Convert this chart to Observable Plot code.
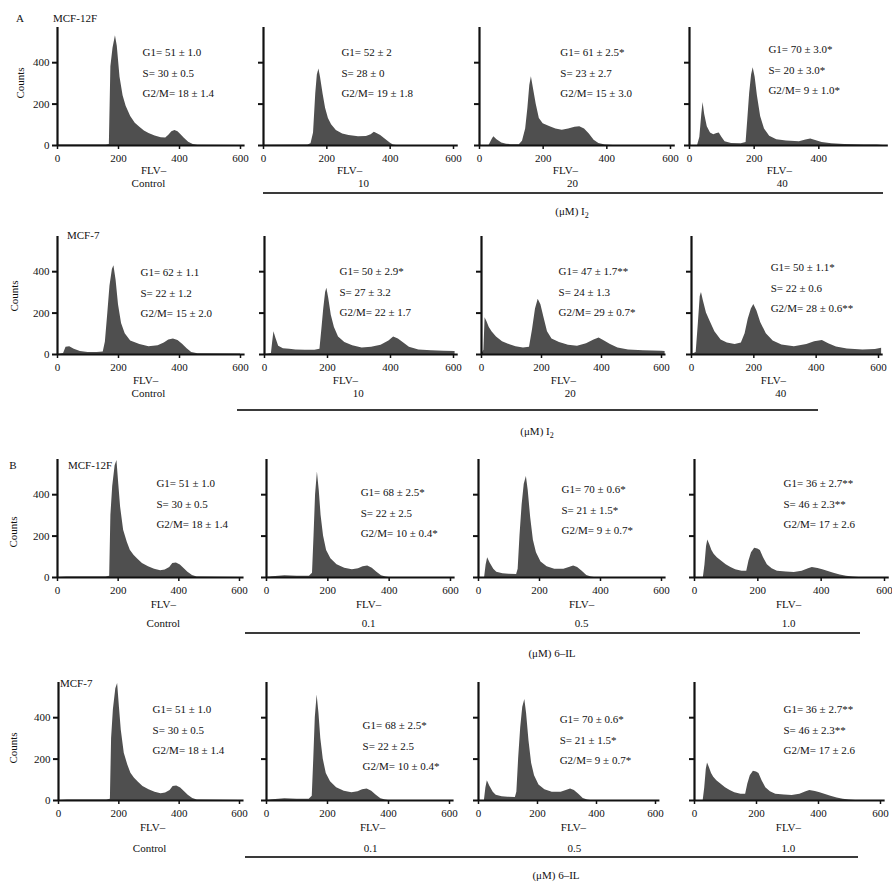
<!DOCTYPE html>
<html><head><meta charset="utf-8">
<script src="https://cdn.jsdelivr.net/npm/d3@7"></script>
<script src="https://cdn.jsdelivr.net/npm/@observablehq/plot@0.6"></script>
<style>
body{margin:0;background:#fff;}
#fig{position:relative;width:892px;height:882px;overflow:hidden;font-family:"Liberation Serif","Times New Roman",serif;color:#111;}
.pan{position:absolute;}
.lbl{position:absolute;font-size:11px;white-space:nowrap;line-height:1;transform:translate(-50%,-50%);}
.lbl.l{transform:translate(0,-50%);}
.lbl.rot{transform:translate(-50%,-50%) rotate(-90deg);}
.hline{position:absolute;height:2px;background:#3a3a3a;}
</style></head><body><div id="fig"></div>
<script>
// ---------- DATA (FLV channel, counts) ----------
const hA12_ctrl = [[0,2],[160,3],[170,5],[175,380],[182,470],[190,530],[196,480],[205,330],[215,240],[225,190],[240,140],[255,108],[270,88],[285,70],[300,58],[320,46],[340,38],[355,36],[365,50],[375,66],[385,72],[395,66],[405,52],[415,36],[430,16],[445,5],[460,1],[600,0]];
const hA12_10 = [[0,1],[140,2],[150,8],[158,60],[165,250],[170,340],[175,369],[180,330],[188,250],[196,180],[205,130],[215,100],[230,72],[250,56],[270,48],[300,42],[325,44],[340,52],[350,64],[358,58],[370,48],[385,30],[400,12],[410,3],[420,0],[600,0]];
const hA12_20 = [[0,0],[30,0],[40,30],[45,42],[55,28],[70,12],[85,6],[100,4],[125,4],[135,20],[145,80],[152,180],[158,290],[163,332],[170,270],[178,200],[188,130],[200,105],[220,92],[240,80],[260,74],[280,80],[300,88],[315,90],[330,80],[345,55],[360,25],[375,10],[395,3],[420,0],[600,0]];
const hA12_40 = [[0,0],[25,0],[32,40],[38,150],[42,208],[47,150],[55,90],[65,60],[75,52],[85,58],[92,60],[100,40],[110,18],[130,10],[160,8],[175,14],[180,120],[186,250],[192,340],[197,376],[203,330],[210,240],[220,140],[232,80],[248,45],[270,28],[300,22],[340,18],[360,26],[375,32],[390,24],[410,14],[440,8],[480,5],[540,3],[580,2],[600,0]];
const hA7_ctrl = [[0,0],[20,5],[28,35],[40,38],[55,25],[75,14],[100,10],[130,10],[150,12],[157,60],[165,200],[172,330],[180,410],[185,429],[192,360],[200,240],[210,150],[222,100],[240,65],[270,48],[300,38],[330,42],[350,55],[365,70],[380,75],[395,68],[410,50],[425,28],[440,10],[460,4],[600,3]];
const hA7_10 = [[0,0],[22,5],[26,60],[30,110],[36,80],[45,40],[60,28],[80,25],[100,22],[130,20],[160,20],[176,25],[182,120],[188,220],[194,300],[198,320],[204,270],[212,190],[222,130],[235,85],[255,58],[280,42],[310,32],[340,35],[370,45],[395,65],[410,85],[425,75],[440,58],[460,35],[490,22],[530,18],[570,16],[605,14]];
const hA7_20 = [[0,0],[8,20],[12,178],[18,160],[26,130],[35,110],[50,85],[70,62],[90,50],[115,38],[140,32],[160,35],[170,120],[180,220],[189,267],[198,240],[208,180],[220,110],[235,75],[260,58],[290,45],[320,40],[350,52],[375,70],[392,80],[410,65],[430,48],[455,32],[490,22],[540,18],[600,16],[612,15]];
const hA7_40 = [[0,0],[15,10],[22,150],[28,280],[32,300],[38,260],[48,200],[60,160],[75,110],[95,70],[115,55],[140,48],[160,55],[172,100],[182,170],[192,220],[200,241],[210,210],[222,155],[240,100],[262,65],[290,46],[330,38],[370,48],[395,62],[420,68],[440,52],[465,36],[500,26],[550,22],[590,24],[610,30]];
const hB12_ctrl = [[0,0],[30,3],[160,3],[172,6],[176,300],[182,440],[190,540],[196,565],[202,450],[208,340],[218,228],[230,170],[240,132],[252,108],[265,88],[280,68],[300,52],[320,40],[340,33],[355,36],[370,48],[380,68],[392,70],[405,60],[418,42],[430,25],[445,10],[460,2],[600,0]];
const hB12_01 = [[0,0],[20,4],[60,8],[100,6],[140,6],[150,20],[155,200],[160,400],[166,510],[172,420],[178,300],[186,200],[196,130],[210,90],[230,62],[255,45],[280,38],[300,42],[315,52],[330,55],[345,45],[360,25],[375,8],[390,2],[400,0],[600,0]];
const hB12_05 = [[0,0],[20,0],[25,60],[30,96],[38,70],[50,40],[60,25],[80,18],[100,16],[125,14],[130,40],[136,200],[143,350],[150,450],[157,488],[163,420],[171,290],[180,180],[190,120],[205,75],[225,52],[250,40],[280,40],[300,50],[312,56],[325,48],[340,30],[355,10],[370,2],[380,0],[600,0]];
const hB12_10 = [[0,0],[28,0],[33,60],[38,150],[42,181],[48,160],[55,130],[62,112],[72,95],[85,80],[100,62],[115,48],[130,38],[150,30],[165,30],[172,80],[180,120],[190,141],[200,138],[208,130],[218,95],[230,62],[245,42],[262,30],[290,26],[315,24],[340,30],[360,42],[372,48],[390,44],[405,38],[420,30],[440,20],[460,12],[480,6],[500,2],[520,0],[600,0]];
const hB7_ctrl = hB12_ctrl;
const hB7_01 = hB12_01;
const hB7_05 = hB12_05;
const hB7_10 = hB12_10;

const cellLines = ["MCF-12F","MCF-7","MCF-12F","MCF-7"];
const concI2 = ["Control","10","20","40"];
const conc6IL = ["Control","0.1","0.5","1.0"];
const xTicks = [0,200,400,600];
const yTicks = [0,200,400];

const statsA12 = [["G1= 51 ± 1.0","S= 30 ± 0.5","G2/M= 18 ± 1.4"],["G1= 52 ± 2","S= 28 ± 0","G2/M= 19 ± 1.8"],["G1= 61 ± 2.5*","S= 23 ± 2.7","G2/M= 15 ± 3.0"],["G1= 70 ± 3.0*","S= 20 ± 3.0*","G2/M= 9 ± 1.0*"]];
const statsA7 = [["G1= 62 ± 1.1","S= 22 ± 1.2","G2/M= 15 ± 2.0"],["G1= 50 ± 2.9*","S= 27 ± 3.2","G2/M= 22 ± 1.7"],["G1= 47 ± 1.7**","S= 24 ± 1.3","G2/M= 29 ± 0.7*"],["G1= 50 ± 1.1*","S= 22 ± 0.6","G2/M= 28 ± 0.6**"]];
const statsB12 = [["G1= 51 ± 1.0","S= 30 ± 0.5","G2/M= 18 ± 1.4"],["G1= 68 ± 2.5*","S= 22 ± 2.5","G2/M= 10 ± 0.4*"],["G1= 70 ± 0.6*","S= 21 ± 1.5*","G2/M= 9 ± 0.7*"],["G1= 36 ± 2.7**","S= 46 ± 2.3**","G2/M= 17 ± 2.6"]];
const statsB7 = statsB12;

// ---------- LAYOUT ----------
const X0 = [[57,263,479,689],[57,264,481,691],[57,266,478,694],[58,266,478,694]];
const X600 = [[240,453,670,883],[240,453,661,878],[239,450,661,884],[239,449,655,880]];
const BASE = [145,354,577,800];
const statPos = [[[279,482],[246,482],[254,482],[244,496]],[[272,429],[238,434],[257,434],[254,453]],[[326,487],[307,443],[272,458],[281,487]],[[312,472],[315,395],[275,424],[287,472]]];
const flvPos = [[315,272,270,278],[289,257,273,263],[349,333,338,297],[312,348,322,303]];
const concPos = [[298,316,292,287],[298,298,296,286],[349,333,338,297],[302,341,325,303]];
const flvDy = [25,26,27,27];
const concDy = [38,39,46,48];

const hists = [[hA12_ctrl,hA12_10,hA12_20,hA12_40],[hA7_ctrl,hA7_10,hA7_20,hA7_40],[hB12_ctrl,hB12_01,hB12_05,hB12_10],[hB7_ctrl,hB7_01,hB7_05,hB7_10]];
const stats = [statsA12,statsA7,statsB12,statsB7];
const concs = [concI2,concI2,conc6IL,conc6IL];

const fig = document.getElementById("fig");
const FONT = '"Liberation Serif","Times New Roman",serif';

function panel(r, c) {
  const x0 = X0[r][c];
  const s = (X600[r][c] - x0) / 3;
  const plotW = s * 615 / 200;
  const mL = 45, mT = 5, plotH = 118;
  const W = Math.ceil(mL + plotW + 12);
  const H = mT + plotH + 60;
  const ticksX = (r === 0 && c === 3) ? [0,200,400] : xTicks;
  const sp = statPos[r][c];
  const svg = Plot.plot({
    width: W, height: H,
    marginLeft: mL, marginTop: mT, marginRight: W - mL - plotW, marginBottom: H - mT - plotH,
    x: {domain: [0, 615], range: [mL, mL + plotW]},
    y: {domain: [0, 570], range: [mT + plotH, mT]},
    style: {background: "transparent", overflow: "visible", fontFamily: FONT, fontSize: "11px", color: "#111"},
    marks: [
      Plot.areaY(hists[r][c], {x: d => d[0], y: d => d[1], fill: "#4f4f4f", curve: "linear"}),
      Plot.ruleX([0], {y1: 0, y2: 570, strokeWidth: 2.2, stroke: "#111"}),
      Plot.ruleY([0], {x1: 0, x2: 615, strokeWidth: 2.2, stroke: "#111"}),
      Plot.axisY({ticks: yTicks, tickSize: 5, strokeWidth: 2, tickPadding: 3, label: null, fontSize: 11,
        tickFormat: c === 0 ? (d => String(d)) : (() => "")}),
      Plot.axisX({ticks: ticksX, tickSize: 4, strokeWidth: 1.5, tickPadding: 5, label: null, fontSize: 11}),
      Plot.text([{x: sp[0], y: sp[1], t: stats[r][c].join("\n")}], {x: "x", y: "y", text: "t", textAnchor: "start", lineAnchor: "top", lineHeight: 1.86, dy: -4, fontSize: 11}),
      Plot.text([{x: flvPos[r][c], y: 0, t: "FLV–"}], {x: "x", y: "y", text: "t", dy: flvDy[r], fontSize: 11}),
      Plot.text([{x: concPos[r][c], y: 0, t: concs[r][c]}], {x: "x", y: "y", text: "t", dy: concDy[r], fontSize: 11})
    ]
  });
  svg.classList.add("pan");
  svg.style.left = (x0 - mL) + "px";
  svg.style.top = (BASE[r] - plotH - mT) + "px";
  fig.appendChild(svg);
}
for (let r = 0; r < 4; r++) for (let c = 0; c < 4; c++) panel(r, c);

function label(html, x, y, cls) {
  const d = document.createElement("div");
  d.className = "lbl" + (cls ? " " + cls : "");
  d.style.left = x + "px"; d.style.top = y + "px";
  d.innerHTML = html;
  fig.appendChild(d);
}
function hline(x1, x2, y) {
  const d = document.createElement("div");
  d.className = "hline";
  d.style.left = x1 + "px"; d.style.width = (x2 - x1) + "px"; d.style.top = (y - 1) + "px";
  fig.appendChild(d);
}
label("A", 20, 18);
label("B", 13, 465);
label(cellLines[0], 53, 18, "l");
label(cellLines[1], 67, 235, "l");
label(cellLines[2], 68, 465, "l");
label(cellLines[3], 60, 683, "l");
[[20,83],[14,296],[13,532],[13,748]].forEach(p => label("Counts", p[0], p[1], "rot"));
hline(263, 883, 193);
hline(237, 818, 410);
hline(245, 860, 633);
hline(245, 858, 857);
label("(μM) I<sub style='font-size:8px;vertical-align:-3px'>2</sub>", 572, 213);
label("(μM) I<sub style='font-size:8px;vertical-align:-3px'>2</sub>", 537, 433);
label("(μM) 6–IL", 552, 653);
label("(μM) 6–IL", 556, 875);
</script></body></html>
